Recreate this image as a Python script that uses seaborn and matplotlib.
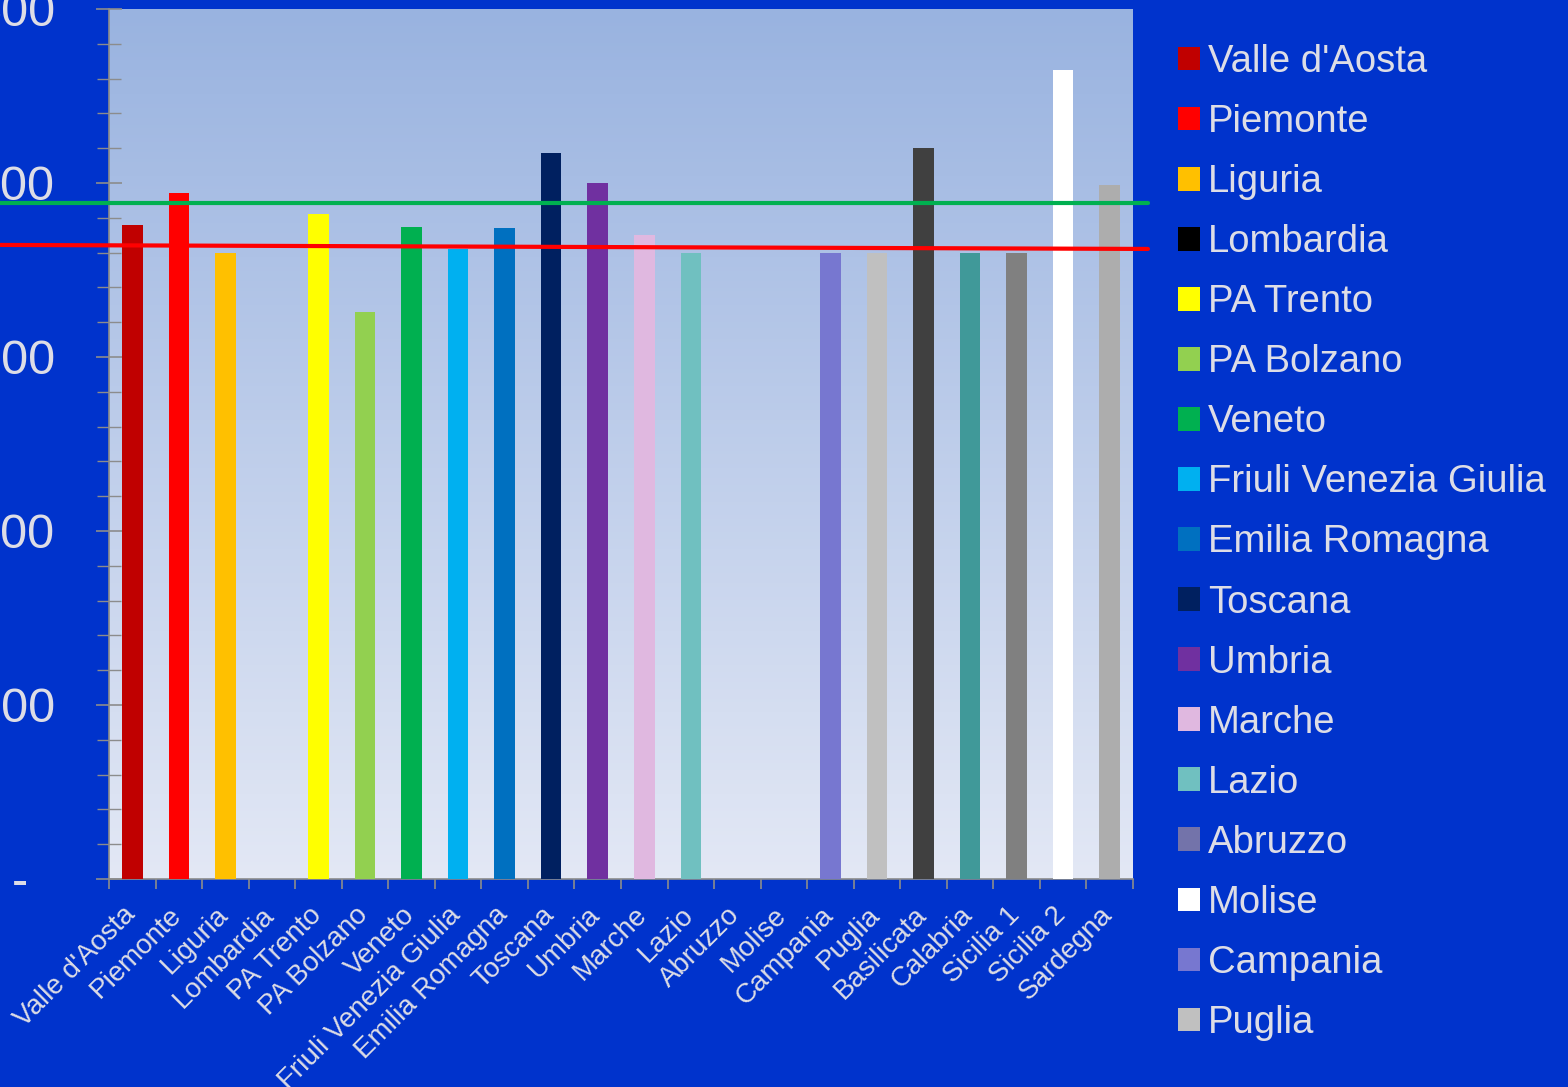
import numpy as np
import pandas as pd
import matplotlib
matplotlib.use("Agg")
import matplotlib.pyplot as plt
from matplotlib.colors import LinearSegmentedColormap
from matplotlib.patches import Patch
from matplotlib.ticker import MultipleLocator
from matplotlib.transforms import ScaledTranslation
import seaborn as sns

# ---- data -------------------------------------------------------------
regioni = [
    "Valle d'Aosta", "Piemonte", "Liguria", "Lombardia", "PA Trento",
    "PA Bolzano", "Veneto", "Friuli Venezia Giulia", "Emilia Romagna",
    "Toscana", "Umbria", "Marche", "Lazio", "Abruzzo", "Molise",
    "Campania", "Puglia", "Basilicata", "Calabria", "Sicilia 1",
    "Sicilia 2", "Sardegna",
]
valori = [
    376, 394, 360, 0, 382,
    326, 375, 362, 374,
    417, 400, 370, 360, 0, 0,
    360, 360, 420, 360, 360,
    465, 399,
]
colori = [
    "#C00000", "#FF0000", "#FFC000", "#000000", "#FFFF00",
    "#92D050", "#00B050", "#00B0F0", "#0070C0",
    "#002060", "#7030A0", "#E0B8E0", "#70C0C0", "#7373AA", "#FFFFFF",
    "#7777D0", "#C0C0C0", "#404040", "#409999", "#808080",
    "#FFFFFF", "#ADADAD",
]
media_verde = 388.5
linea_rossa = [364.4, 362.1]
y_ticks = [0, 100, 200, 300, 400, 500]
y_labels = ["-  ", "100", "200", "300", "400", "500"]
n_legenda = 17  # entries that fit in the legend column (Valle d'Aosta .. Puglia)

# ---- style ------------------------------------------------------------
sns.set_theme(style="white")
plt.rcParams["font.family"] = ["Liberation Sans", "DejaVu Sans"]

BLU = "#0033CC"
TESTO = "#DDDDE6"
GRIGIO = "#8C8C8C"

W, H = 1568, 1087
fig = plt.figure(figsize=(W / 100, H / 100), dpi=100, facecolor=BLU)
pos = [109 / W, 1 - 879 / H, 1024 / W, 870 / H]

# gradient background of the plotting area
bg = fig.add_axes(pos, zorder=0)
grad = LinearSegmentedColormap.from_list("sfondo", ["#E3E8F5", "#99B3E0"])
bg.imshow(np.linspace(0, 1, 256).reshape(-1, 1), cmap=grad, origin="lower",
          aspect="auto", extent=[0, 1, 0, 1])
bg.set_axis_off()

ax = fig.add_axes(pos, zorder=1)
ax.set_facecolor("none")

df = pd.DataFrame({"Regione": regioni, "Valore": valori})
sns.barplot(data=df, x="Regione", y="Valore", hue="Regione",
            palette=dict(zip(regioni, colori)), saturation=1, width=0.44,
            linewidth=0, legend=False, ax=ax, zorder=3)

# reference lines running slightly past the plotting area
trans = ax.get_yaxis_transform()
ax.plot([-0.106, 1.0146], [media_verde, media_verde], color="#00B050",
        lw=3.0, transform=trans, clip_on=False, zorder=5)
ax.plot([-0.106, 1.0146], linea_rossa, color="#FF0000",
        lw=3.0, transform=trans, clip_on=False, zorder=5)

# axes
ax.set_xlim(-0.5, len(regioni) - 0.5)
ax.set_ylim(0, 500)
ax.set_xlabel("")
ax.set_ylabel("")

ax.set_yticks(y_ticks)
ax.set_yticklabels(y_labels)
ax.yaxis.set_minor_locator(MultipleLocator(20))
ax.tick_params(axis="y", which="major", left=True, direction="inout",
               length=19.4, width=1.2, color=GRIGIO, pad=29.2,
               labelsize=35, labelcolor=TESTO)
ax.tick_params(axis="y", which="minor", left=True, direction="inout",
               length=16.6, width=1.0, color=GRIGIO)

ax.set_xticks(range(len(regioni)))
ax.set_xticklabels(regioni, rotation=45, ha="right")
ax.set_xticks(np.arange(-0.5, len(regioni)), minor=True)
ax.tick_params(axis="x", which="major", bottom=True, length=0, pad=16.5,
               labelsize=20, labelcolor=TESTO)
ax.tick_params(axis="x", which="minor", bottom=True, direction="out",
               length=7.2, width=1.2, color=GRIGIO)
shift = ScaledTranslation(8 / 100, 0, fig.dpi_scale_trans)
for lab in ax.get_xticklabels():
    lab.set_transform(lab.get_transform() + shift)

for s in ("top", "right"):
    ax.spines[s].set_visible(False)
for s in ("left", "bottom"):
    ax.spines[s].set_color(GRIGIO)
    ax.spines[s].set_linewidth(1.2)

# legend on the right
handles = [Patch(facecolor=c, edgecolor="none") for c in colori[:n_legenda]]
fig.legend(handles, regioni[:n_legenda], loc="upper left",
           bbox_to_anchor=(1178 / W, 1 - 44 / H), frameon=False,
           fontsize=27.5, labelcolor=TESTO, handlelength=0.58,
           handleheight=0.58, handletextpad=0.21, labelspacing=0.63,
           borderpad=0, borderaxespad=0)

fig.savefig("out.png", dpi=100, facecolor=BLU)
